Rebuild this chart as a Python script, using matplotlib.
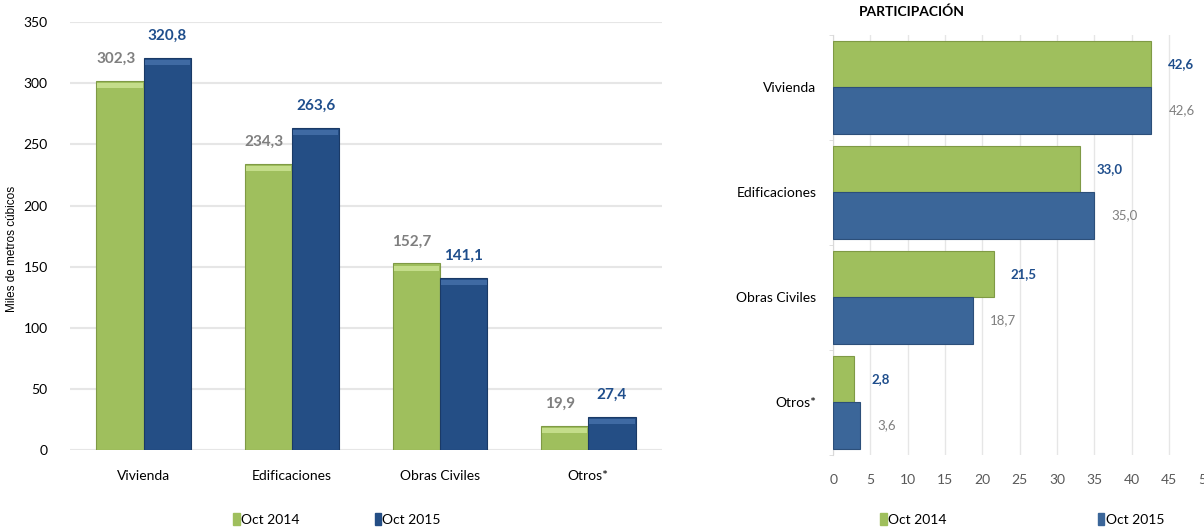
import matplotlib.pyplot as plt
from matplotlib.patches import Patch
import numpy as np

plt.rcParams['font.family'] = ['Lato', 'DejaVu Sans']

# volume chart (miles de metros cubicos)
categories = ['Vivienda', 'Edificaciones', 'Obras Civiles', 'Otros*']
vol_2014 = [302.3, 234.3, 152.7, 19.9]
vol_2015 = [320.8, 263.6, 141.1, 27.4]

# participation chart (%)
part_2014 = [42.6, 33.0, 21.5, 2.8]
part_2015 = [42.6, 35.0, 18.7, 3.6]

series_names = ['Oct 2014', 'Oct 2015']

GREEN = '#9fbf5d'
GREEN_EDGE = '#7f9a45'
BLUE_L = '#244e85'
BLUE_L_EDGE = '#1a3a66'
BLUE_R = '#3b6699'
BLUE_R_EDGE = '#2c4f7a'
GRAY_TXT = '#7f7f7f'
BLUE_TXT = '#1f4e8c'
TICK_TXT = '#595959'
GRID = '#e6e6e6'


def fmt(v):
    return f'{v:.1f}'.replace('.', ',')


fig = plt.figure(figsize=(12.04, 5.29), dpi=100)
fig.patch.set_facecolor('white')

# ---------------- left: volumes ----------------
ax1 = fig.add_axes([0.058, 0.149, 0.492, 0.809])
x = np.arange(len(categories))
w = 0.32
ax1.bar(x - w / 2, vol_2014, w, color=GREEN, edgecolor=GREEN_EDGE, linewidth=0.8, zorder=3)
ax1.bar(x + w / 2, vol_2015, w, color=BLUE_L, edgecolor=BLUE_L_EDGE, linewidth=0.8, zorder=3)
# light strip on top of bars
ax1.bar(x - w / 2, [4] * len(x), w * 0.96, bottom=np.array(vol_2014) - 6,
        color='#c4dd8a', linewidth=0, zorder=4)
ax1.bar(x + w / 2, [4] * len(x), w * 0.96, bottom=np.array(vol_2015) - 6,
        color='#3f6aa3', linewidth=0, zorder=4)

for xi, v in zip(x, vol_2014):
    ax1.text(xi - w / 2 - 0.03, v + 12, fmt(v), ha='center', va='bottom',
             fontsize=11, color=GRAY_TXT, fontweight='bold')
for xi, v in zip(x, vol_2015):
    ax1.text(xi + w / 2, v + 12, fmt(v), ha='center', va='bottom',
             fontsize=11, color=BLUE_TXT, fontweight='bold')

ax1.set_xlim(-0.5, 3.5)
ax1.set_ylim(0, 350)
ax1.set_yticks(range(0, 351, 50))
ax1.set_xticks(x)
ax1.set_xticklabels(categories)
ax1.yaxis.grid(True, color=GRID, linewidth=1.5, zorder=0)
ax1.set_axisbelow(True)
for s in ax1.spines.values():
    s.set_visible(False)
ax1.tick_params(axis='both', length=0, labelsize=10, colors='black')
ax1.tick_params(axis='x', pad=14)
ax1.tick_params(axis='y', pad=16)
fig.text(0.010, 0.53, 'Miles de metros cúbicos', rotation=90, ha='center', va='center',
         family='Liberation Sans', fontsize=8.5)

fig.legend(handles=[Patch(color=GREEN), Patch(color=BLUE_L)], labels=series_names,
           loc='center', bbox_to_anchor=(0.280, 0.018), ncol=2, frameon=False,
           fontsize=10, handlelength=0.45, handleheight=0.9, handletextpad=0.1,
           columnspacing=5.4)

# ---------------- right: participation ----------------
ax2 = fig.add_axes([0.692, 0.140, 0.31, 0.794])
y = np.arange(len(categories))
h = 0.44
ax2.barh(y - h / 2, part_2014, h, color=GREEN, edgecolor=GREEN_EDGE, linewidth=0.8, zorder=3)
ax2.barh(y + h / 2, part_2015, h, color=BLUE_R, edgecolor=BLUE_R_EDGE, linewidth=0.8, zorder=3)

for yi, v in zip(y, part_2014):
    ax2.text(v + 2.3, yi - h / 2, fmt(v), ha='left', va='center',
             fontsize=9.5, color=BLUE_TXT, fontweight='bold')
for yi, v in zip(y, part_2015):
    ax2.text(v + 2.3, yi + h / 2, fmt(v), ha='left', va='center',
             fontsize=9.5, color=GRAY_TXT)

ax2.set_xlim(0, 50)
ax2.set_ylim(3.5, -0.5)
ax2.set_xticks(range(0, 51, 5))
ax2.set_yticks(y)
ax2.set_yticklabels(categories)
ax2.set_yticks(np.arange(-0.5, 3.6, 1), minor=True)
ax2.xaxis.grid(True, color=GRID, linewidth=1, zorder=0)
ax2.set_axisbelow(True)
for s in ['top', 'right', 'bottom']:
    ax2.spines[s].set_visible(False)
ax2.spines['left'].set_color('#d9d9d9')
ax2.tick_params(axis='x', length=0, labelsize=10, colors=TICK_TXT, pad=14)
ax2.tick_params(axis='y', which='major', length=0, labelsize=10, pad=12)
ax2.tick_params(axis='y', which='minor', length=3, color='#d9d9d9')
ax2.set_title('PARTICIPACIÓN', fontsize=10, fontweight='bold', x=0.21, y=1.025)

fig.legend(handles=[Patch(color=GREEN), Patch(color=BLUE_R)], labels=series_names,
           loc='center', bbox_to_anchor=(0.849, 0.018), ncol=2, frameon=False,
           fontsize=10, handlelength=0.45, handleheight=0.9, handletextpad=0.1,
           columnspacing=10.9)

fig.savefig('out.png', dpi=100, facecolor='white')
